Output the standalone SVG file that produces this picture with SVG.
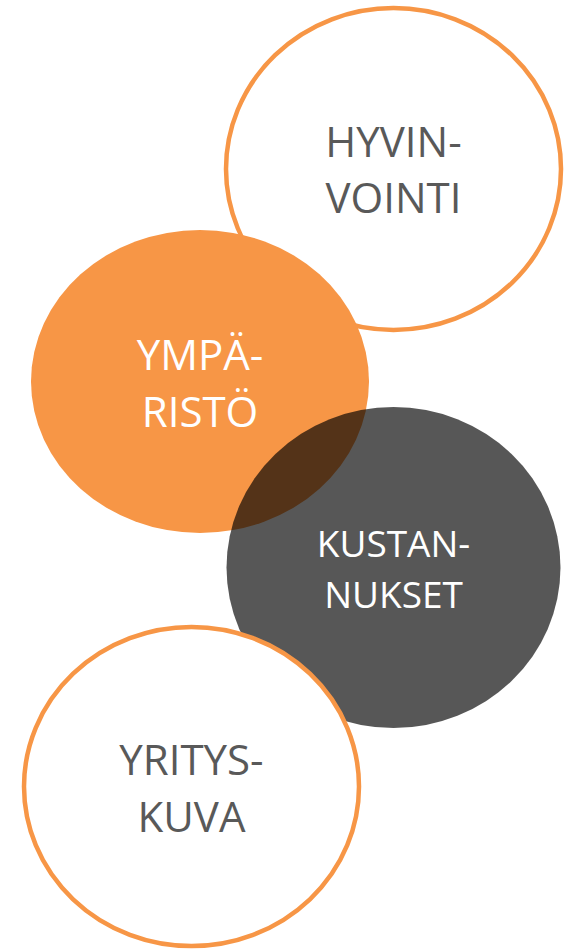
<svg xmlns="http://www.w3.org/2000/svg" width="567" height="949" viewBox="0 0 567 949">
<style>
.ring{fill:#ffffff;stroke:#F79646;stroke-width:4.5}
.t{font-family:"Open Sans","Liberation Sans",sans-serif;text-anchor:middle}
.dk{fill:#595959;font-size:42px}
.wt{fill:#ffffff}
</style>
<rect width="567" height="949" fill="#ffffff"/>
<g id="connectors"></g>
<g id="hyvinvointi">
<ellipse class="ring" cx="393.5" cy="169" rx="167.5" ry="161"/>
<text class="t dk" x="393.5" y="157">HYVIN-</text>
<text class="t dk" x="393.5" y="213">VOINTI</text>
</g>
<g id="ymparisto">
<ellipse cx="200" cy="381.5" rx="169" ry="151.5" fill="#F79646"/>
<text class="t wt" x="200" y="370" font-size="42">YMPÄ-</text>
<text class="t wt" x="200" y="427" font-size="42">RISTÖ</text>
</g>
<g id="kustannukset">
<ellipse cx="393.5" cy="567.5" rx="167" ry="160.5" fill="#000000" fill-opacity="0.66"/>
<text class="t wt" x="393.5" y="557" font-size="37">KUSTAN-</text>
<text class="t wt" x="393.5" y="608" font-size="37">NUKSET</text>
</g>
<g id="yrityskuva">
<ellipse class="ring" cx="191.5" cy="786.5" rx="167.5" ry="159.5"/>
<text class="t dk" x="191.5" y="775">YRITYS-</text>
<text class="t dk" x="191.5" y="832">KUVA</text>
</g>
</svg>
